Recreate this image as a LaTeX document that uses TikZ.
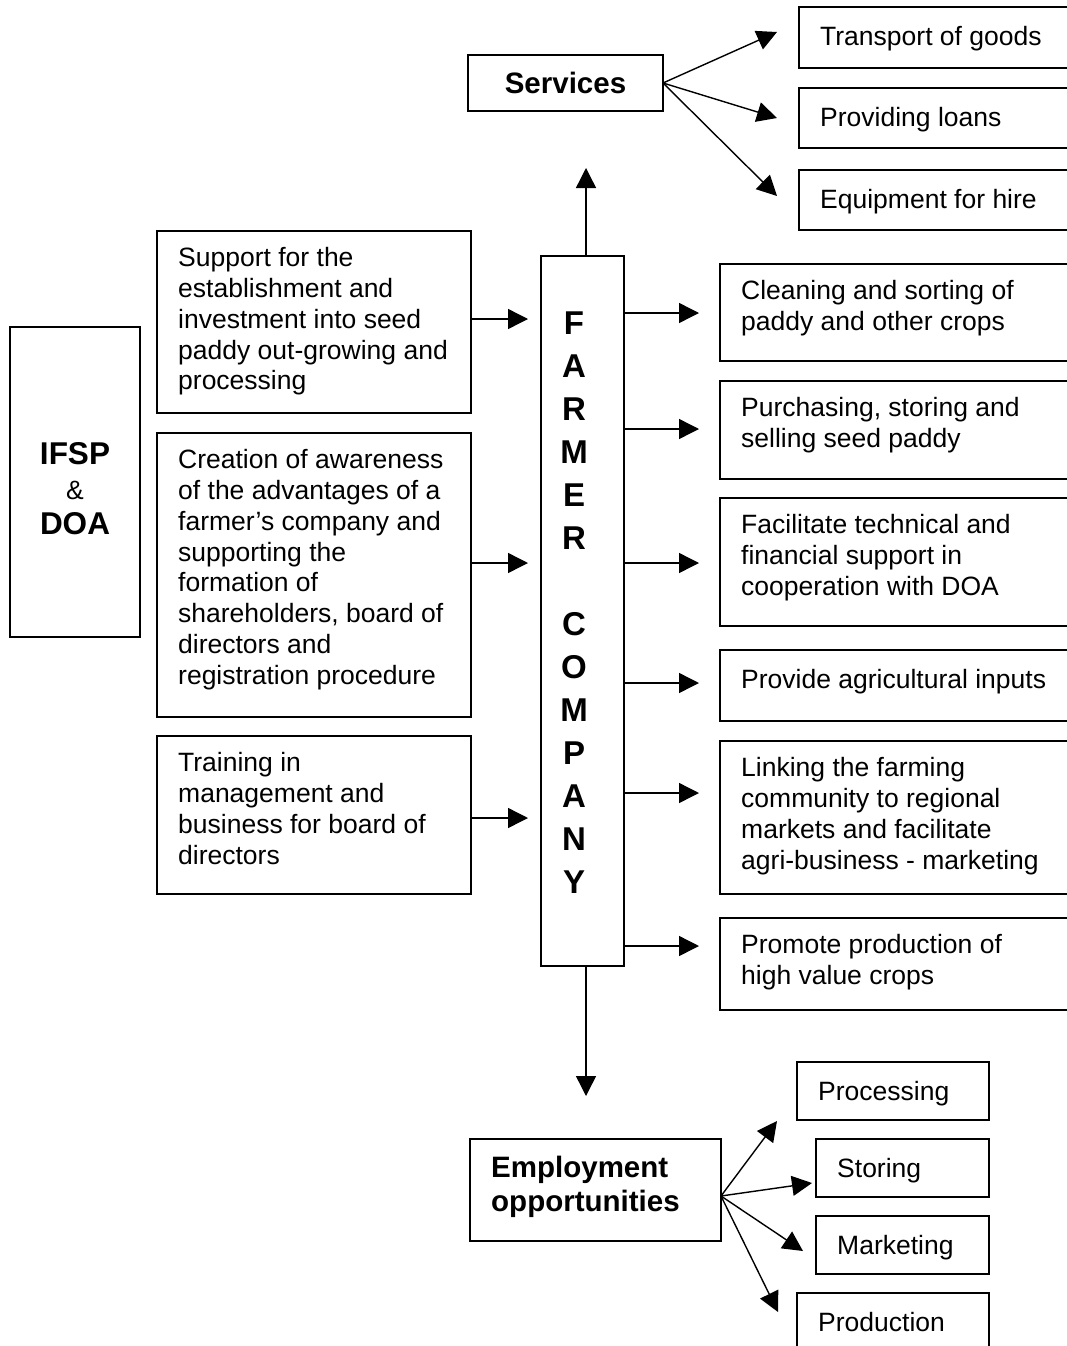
\documentclass[tikz,border=0pt]{standalone}
\usepackage{fontspec}
\setmainfont{Liberation Sans}
\usetikzlibrary{arrows.meta}
\newcommand\regf{\fontsize{26.5}{30.75}\selectfont}
\newcommand\servf{\bfseries\fontsize{29.5}{34}\selectfont}
\newcommand\ifspf{\bfseries\fontsize{31.5}{35}\selectfont}
\newcommand\farmf{\bfseries\fontsize{33}{43}\selectfont}
\begin{document}
\begin{tikzpicture}[x=1pt,y=-1pt,
  box/.style={draw, line width=1.6pt, anchor=north west, inner sep=0pt, outer sep=0pt},
  txt/.style={anchor=north west, inner sep=0pt, align=left, font=\regf,
              execute at begin node=\strut, xshift=21pt, yshift=-16.5pt},
  arr/.style={line width=1.4pt, -{Triangle[length=20pt,width=20pt]}}]
\fill[white] (0,0) rectangle (1066,1346);
\useasboundingbox (0,0) rectangle (1066,1346);

% Services
\node[box, anchor=center, minimum width=195pt, minimum height=56pt, font=\servf] (serv) at (565.5,83) {Services};
\node[box, minimum width=290pt, minimum height=61pt] (trans) at (799,7) {};
\node[txt] (transt) at (trans.north west) {Transport of goods};
\node[box, minimum width=290pt, minimum height=60pt] (loan) at (799,88) {};
\node[txt] (loant) at (loan.north west) {Providing loans};
\node[box, minimum width=290pt, minimum height=60pt] (equip) at (799,170) {};
\node[txt] (equipt) at (equip.north west) {Equipment for hire};
\coordinate (s1) at (777,32);
\coordinate (s2) at (777,118);
\coordinate (s3) at (777,196);
\draw[arr] (serv.east) -- (s1);
\draw[arr] (serv.east) -- (s2);
\draw[arr] (serv.east) -- (s3);

% Farmer company
\node[box, minimum width=83pt, minimum height=710pt] (farmer) at (541,256) {};
\node[font=\farmf, align=center, anchor=north, inner sep=0pt, execute at begin node=\strut] (farmtxt) at (574,312)
  {F\\A\\R\\M\\E\\R\\\mbox{}\\C\\O\\M\\P\\A\\N\\Y};
\coordinate (uptip) at (586,168);
\coordinate (dntip) at (586,1096);
\draw[arr] (farmer.north -| uptip) -- (uptip);
\draw[arr] (farmer.south -| dntip) -- (dntip);

% IFSP & DOA
\node[box, minimum width=130pt, minimum height=310pt] (ifsp) at (10,327) {};
\node[font=\ifspf, align=center, anchor=north, inner sep=0pt, execute at begin node=\strut] (ifspt) at (75,442.5)
  {IFSP\\{\mdseries\regf\&}\\DOA};

% Left boxes
\node[box, minimum width=314pt, minimum height=182pt] (sup) at (157,231) {};
\node[txt] (supt) at (sup.north west) {Support for the\\establishment and\\investment into seed\\paddy out-growing and\\processing};
\node[box, minimum width=314pt, minimum height=284pt] (crea) at (157,433) {};
\node[txt] (creat) at (crea.north west) {Creation of awareness\\of the advantages of a\\farmer’s company and\\supporting the\\formation of\\shareholders, board of\\directors and\\registration procedure};
\node[box, minimum width=314pt, minimum height=158pt] (train) at (157,736) {};
\node[txt] (traint) at (train.north west) {Training in\\management and\\business for board of\\directors};
\coordinate (l1) at (528,319);
\coordinate (l2) at (528,563);
\coordinate (l3) at (528,818);
\draw[arr] (sup.east |- l1) -- (l1);
\draw[arr] (crea.east |- l2) -- (l2);
\draw[arr] (train.east |- l3) -- (l3);

% Right boxes
\node[box, minimum width=360pt, minimum height=97pt] (clean) at (720,264) {};
\node[txt] (cleant) at (clean.north west) {Cleaning and sorting of\\paddy and other crops};
\node[box, minimum width=360pt, minimum height=98pt] (purch) at (720,381) {};
\node[txt] (purcht) at (purch.north west) {Purchasing, storing and\\selling seed paddy};
\node[box, minimum width=360pt, minimum height=128pt] (facil) at (720,498) {};
\node[txt] (facilt) at (facil.north west) {Facilitate technical and\\financial support in\\cooperation with DOA};
\node[box, minimum width=360pt, minimum height=71pt] (inputs) at (720,650) {};
\node[txt] (inputst) at (inputs.north west) {Provide agricultural inputs};
\node[box, minimum width=360pt, minimum height=153pt] (link) at (720,741) {};
\node[txt] (linkt) at (link.north west) {Linking the farming\\community to regional\\markets and facilitate\\agri-business - marketing};
\node[box, minimum width=360pt, minimum height=92pt] (prom) at (720,918) {};
\node[txt] (promt) at (prom.north west) {Promote production of\\high value crops};
\coordinate (r1) at (699,313);
\coordinate (r2) at (699,429);
\coordinate (r3) at (699,563);
\coordinate (r4) at (699,683);
\coordinate (r5) at (699,793);
\coordinate (r6) at (699,946);
\draw[arr] (farmer.east |- r1) -- (r1);
\draw[arr] (farmer.east |- r2) -- (r2);
\draw[arr] (farmer.east |- r3) -- (r3);
\draw[arr] (farmer.east |- r4) -- (r4);
\draw[arr] (farmer.east |- r5) -- (r5);
\draw[arr] (farmer.east |- r6) -- (r6);

% Employment
\node[box, minimum width=251pt, minimum height=102pt] (emp) at (470,1139) {};
\node[txt, font=\servf] (empt) at (emp.north west) {Employment\\opportunities};
\node[box, minimum width=192pt, minimum height=58pt] (proc) at (797,1062) {};
\node[txt] (proct) at (proc.north west) {Processing};
\node[box, minimum width=173pt, minimum height=58pt] (stor) at (816,1139) {};
\node[txt] (stort) at (stor.north west) {Storing};
\node[box, minimum width=173pt, minimum height=58pt] (mark) at (816,1216) {};
\node[txt] (markt) at (mark.north west) {Marketing};
\node[box, minimum width=192pt, minimum height=80pt] (prod) at (797,1293) {};
\node[txt] (prodt) at (prod.north west) {Production};
\coordinate (eo) at (721,1196);
\coordinate (e1) at (777,1121);
\coordinate (e2) at (812,1183);
\coordinate (e3) at (803,1251);
\coordinate (e4) at (778,1312);
\draw[arr] (eo) -- (e1);
\draw[arr] (eo) -- (e2);
\draw[arr] (eo) -- (e3);
\draw[arr] (eo) -- (e4);
\end{tikzpicture}
\end{document}
